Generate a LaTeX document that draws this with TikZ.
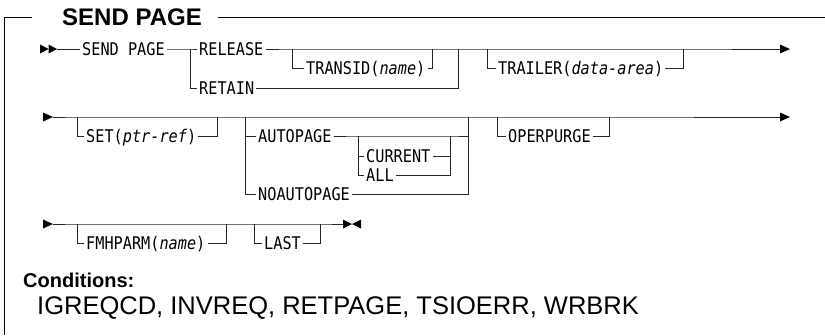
\documentclass[tikz,border=0pt]{standalone}
\usepackage{fontspec}
\setmainfont{Liberation Sans}
\newfontfamily\railfont[FakeStretch=0.87]{DejaVu Sans Mono}
\begin{document}
\begin{tikzpicture}[x=1pt,y=-1pt,
  rail/.style={line width=0.9pt,draw=black!85},
  frame/.style={line width=1pt,draw=black},
  tip/.style={fill=black},
  kw/.style={font=\railfont\fontsize{17.5}{20}\selectfont,inner xsep=2pt,inner ysep=0pt,
    text height=12.8pt,text depth=0pt,anchor=west},
  titlefont/.style={font=\bfseries\fontsize{24}{28}\selectfont,inner sep=0pt}]
\useasboundingbox (0,0) rectangle (825,335);
% frame and title
\node[titlefont,anchor=west] (title) at (62,17) {SEND PAGE};
\coordinate (fl) at (32,17);
\coordinate (fr) at (218,17);
\coordinate (fcorner) at (4,17);
\coordinate (fbottom) at (4,335);
\coordinate (fend) at (825,17);
\draw[frame] (fl) -- (fcorner) -- (fbottom);
\draw[frame] (fr) -- (fend);
% ---------- row 1 ----------
\fill[tip] (40,44.5) -- (48.5,49) -- (40,53.5) -- cycle;
\fill[tip] (48.5,44.5) -- (57,49) -- (48.5,53.5) -- cycle;
\coordinate (r1start) at (57,49);
\node[kw] (sendpage) at (80,49) {SEND PAGE};
\coordinate (b1) at (190,49);
\node[kw] (release) at (197,49) {RELEASE};
\node[kw] (retain) at (197,88) {RETAIN};
\coordinate (t1) at (292,49);
\node[kw] (transid) at (304,68) {TRANSID(\textit{name})};
\coordinate (t2) at (432,49);
\coordinate (j1) at (458,49);
\coordinate (tr1) at (487,49);
\node[kw] (trailer) at (496,68) {TRAILER(\textit{data-area})};
\coordinate (tr2) at (683,49);
\coordinate (r1end) at (781,49);
\fill[tip] (780,44.5) -- (790,49) -- (780,53.5) -- cycle;
\draw[rail] (r1start) -- (sendpage.west);
\draw[rail] (sendpage.east) -- (b1) -- (release.west);
\draw[rail] (b1) |- (retain.west);
\draw[rail] (release.east) -- (t1) -- (t2) -- (j1) -- (tr1) -- (tr2) -- (r1end);
\draw[rail] (t1) |- (transid.west);
\draw[rail] (transid.east) -| (t2);
\draw[rail] (retain.east) -| (j1);
\draw[rail] (tr1) |- (trailer.west);
\draw[rail] (trailer.east) -| (tr2);
% ---------- row 2 ----------
\fill[tip] (43,112.5) -- (53,117) -- (43,121.5) -- cycle;
\coordinate (r2start) at (53,117);
\coordinate (s1) at (77,117);
\node[kw] (set) at (84,136) {SET(\textit{ptr-ref})};
\coordinate (s2) at (217,117);
\coordinate (a1) at (245,117);
\node[kw] (autopage) at (256,136) {AUTOPAGE};
\coordinate (c1) at (358,136);
\node[kw] (current) at (364,156) {CURRENT};
\node[kw] (all) at (364,175) {ALL};
\coordinate (c2) at (450,136);
\coordinate (a2) at (468,117);
\node[kw] (noautopage) at (256,194) {NOAUTOPAGE};
\coordinate (o1) at (497,117);
\node[kw] (operpurge) at (506,136) {OPERPURGE};
\coordinate (o2) at (609,117);
\coordinate (r2end) at (781,117);
\fill[tip] (780,112.5) -- (790,117) -- (780,121.5) -- cycle;
\draw[rail] (r2start) -- (s1) -- (s2) -- (a1) -- (a2) -- (o1) -- (o2) -- (r2end);
\draw[rail] (s1) |- (set.west);
\draw[rail] (set.east) -| (s2);
\draw[rail] (a1) |- (autopage.west);
\draw[rail] (autopage.east) -- (c1) -- (c2) -| (a2);
\draw[rail] (c1) |- (current.west);
\draw[rail] (c1) |- (all.west);
\draw[rail] (current.east) -| (c2);
\draw[rail] (all.east) -| (c2);
\draw[rail] (a1) |- (noautopage.west);
\draw[rail] (noautopage.east) -| (a2);
\draw[rail] (o1) |- (operpurge.west);
\draw[rail] (operpurge.east) -| (o2);
% ---------- row 3 ----------
\fill[tip] (43,219.5) -- (53,224) -- (43,228.5) -- cycle;
\coordinate (r3start) at (53,224);
\coordinate (f1) at (77,224);
\node[kw] (fmhparm) at (84,243) {FMHPARM(\textit{name})};
\coordinate (f2) at (226,224);
\coordinate (l1) at (254,224);
\node[kw] (last) at (262,243) {LAST};
\coordinate (l2) at (320,224);
\coordinate (r3end) at (344,224);
\fill[tip] (343,219.5) -- (352,224) -- (343,228.5) -- cycle;
\fill[tip] (361,219.5) -- (352,224) -- (361,228.5) -- cycle;
\draw[rail] (r3start) -- (f1) -- (f2) -- (l1) -- (l2) -- (r3end);
\draw[rail] (f1) |- (fmhparm.west);
\draw[rail] (fmhparm.east) -| (f2);
\draw[rail] (l1) |- (last.west);
\draw[rail] (last.east) -| (l2);
% ---------- conditions ----------
\node[anchor=base west,inner sep=0pt,font=\bfseries\fontsize{20}{24}\selectfont] (cond) at (23,287) {Conditions:};
\node[anchor=base west,inner sep=0pt,font=\fontsize{25.5}{30}\selectfont] (condlist) at (37,314) {IGREQCD, INVREQ, RETPAGE, TSIOERR, WRBRK};
\end{tikzpicture}
\end{document}
